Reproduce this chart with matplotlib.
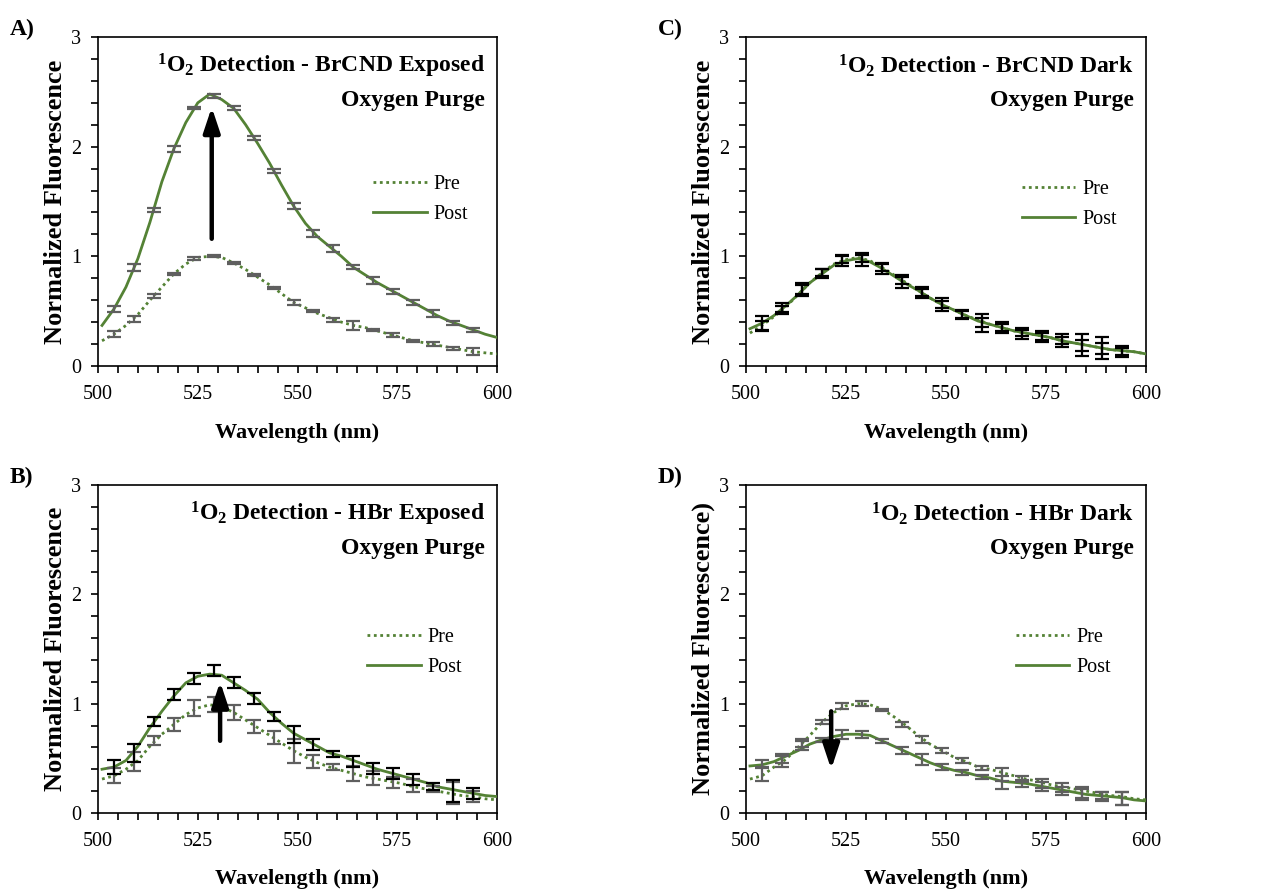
import matplotlib
matplotlib.use("Agg")
import matplotlib.pyplot as plt
from matplotlib.ticker import MultipleLocator

plt.rcParams['font.family'] = ['Liberation Serif', 'DejaVu Serif']
plt.rcParams['mathtext.fontset'] = 'custom'
plt.rcParams['mathtext.bf'] = 'Liberation Serif:bold'
plt.rcParams['mathtext.rm'] = 'Liberation Serif:bold'
plt.rcParams['mathtext.default'] = 'bf'

# continuous spectra (nm)
wl_line = [501, 504, 507, 510, 513, 516, 519, 522, 525, 528, 531, 534, 537, 540, 543, 546, 549,
           552, 555, 558, 561, 564, 567, 570, 573, 576, 579, 582, 585, 588, 591, 594, 597, 600]

a_pre = [0.23, 0.29, 0.37, 0.47, 0.60, 0.72, 0.84, 0.93, 0.99, 1.00, 0.99, 0.94, 0.88, 0.81, 0.74, 0.66, 0.58,
         0.53, 0.48, 0.44, 0.40, 0.37, 0.35, 0.32, 0.29, 0.26, 0.23, 0.21, 0.19, 0.17, 0.15, 0.13, 0.12, 0.11]
a_post = [0.37, 0.52, 0.72, 0.98, 1.31, 1.68, 1.98, 2.22, 2.40, 2.48, 2.43, 2.35, 2.20, 2.03, 1.85, 1.65, 1.46,
          1.30, 1.18, 1.09, 1.00, 0.90, 0.83, 0.76, 0.70, 0.64, 0.58, 0.52, 0.46, 0.41, 0.37, 0.33, 0.29, 0.26]

b_pre = [0.31, 0.34, 0.40, 0.48, 0.61, 0.72, 0.81, 0.90, 0.96, 0.99, 0.97, 0.92, 0.85, 0.78, 0.71, 0.64, 0.57,
         0.51, 0.46, 0.42, 0.39, 0.36, 0.33, 0.31, 0.29, 0.27, 0.24, 0.22, 0.20, 0.18, 0.16, 0.15, 0.13, 0.12]
b_post = [0.40, 0.42, 0.48, 0.61, 0.78, 0.93, 1.07, 1.19, 1.25, 1.27, 1.26, 1.19, 1.12, 1.04, 0.92, 0.82, 0.73,
          0.67, 0.61, 0.55, 0.52, 0.48, 0.44, 0.40, 0.37, 0.34, 0.31, 0.28, 0.24, 0.22, 0.20, 0.18, 0.16, 0.15]

c_pre = [0.30, 0.37, 0.45, 0.54, 0.65, 0.76, 0.85, 0.93, 0.97, 0.99, 0.96, 0.90, 0.83, 0.76, 0.69, 0.62, 0.56,
         0.51, 0.46, 0.42, 0.38, 0.35, 0.32, 0.30, 0.28, 0.26, 0.23, 0.21, 0.19, 0.17, 0.15, 0.14, 0.13, 0.11]
c_post = [0.34, 0.39, 0.46, 0.55, 0.65, 0.76, 0.84, 0.92, 0.96, 0.98, 0.95, 0.89, 0.82, 0.75, 0.69, 0.62, 0.56,
          0.51, 0.46, 0.41, 0.38, 0.35, 0.32, 0.30, 0.28, 0.26, 0.23, 0.21, 0.19, 0.17, 0.15, 0.14, 0.13, 0.11]

d_pre = [0.31, 0.34, 0.42, 0.49, 0.60, 0.71, 0.83, 0.92, 0.98, 1.00, 0.99, 0.95, 0.88, 0.80, 0.71, 0.63, 0.57,
         0.51, 0.47, 0.42, 0.40, 0.37, 0.34, 0.31, 0.29, 0.26, 0.24, 0.22, 0.20, 0.18, 0.16, 0.15, 0.13, 0.12]
d_post = [0.43, 0.44, 0.47, 0.52, 0.57, 0.63, 0.67, 0.70, 0.72, 0.72, 0.71, 0.66, 0.61, 0.56, 0.51, 0.46, 0.42,
          0.39, 0.37, 0.34, 0.32, 0.29, 0.28, 0.27, 0.25, 0.23, 0.21, 0.19, 0.17, 0.16, 0.15, 0.14, 0.12, 0.11]

# error bar points
wl_err = [504, 509, 514, 519, 524, 529, 534, 539, 544, 549, 554, 559, 564, 569, 574, 579, 584, 589, 594]

a_pre_m = [0.29, 0.43, 0.64, 0.84, 0.98, 1.00, 0.94, 0.83, 0.71, 0.58, 0.50, 0.42, 0.37, 0.33, 0.28, 0.23, 0.20, 0.16, 0.13]
a_pre_e = [0.03, 0.03, 0.02, 0.01, 0.01, 0.01, 0.01, 0.01, 0.01, 0.02, 0.01, 0.02, 0.04, 0.01, 0.02, 0.01, 0.02, 0.01, 0.03]
a_post_m = [0.52, 0.90, 1.42, 1.98, 2.35, 2.46, 2.35, 2.08, 1.78, 1.46, 1.21, 1.07, 0.90, 0.78, 0.68, 0.58, 0.48, 0.39, 0.33]
a_post_e = [0.03, 0.03, 0.02, 0.03, 0.01, 0.02, 0.02, 0.02, 0.02, 0.03, 0.03, 0.03, 0.02, 0.03, 0.02, 0.02, 0.03, 0.02, 0.02]

b_pre_m = [0.34, 0.47, 0.66, 0.81, 0.96, 0.99, 0.92, 0.79, 0.69, 0.57, 0.47, 0.42, 0.36, 0.32, 0.28, 0.25, 0.22, 0.18, 0.15]
b_pre_e = [0.07, 0.09, 0.04, 0.06, 0.07, 0.07, 0.07, 0.06, 0.06, 0.11, 0.06, 0.03, 0.07, 0.06, 0.05, 0.06, 0.03, 0.10, 0.05]
b_post_m = [0.42, 0.55, 0.84, 1.08, 1.23, 1.30, 1.19, 1.05, 0.88, 0.72, 0.63, 0.54, 0.47, 0.41, 0.36, 0.31, 0.24, 0.20, 0.18]
b_post_e = [0.06, 0.08, 0.04, 0.05, 0.05, 0.05, 0.05, 0.05, 0.04, 0.08, 0.05, 0.03, 0.05, 0.05, 0.05, 0.05, 0.03, 0.10, 0.05]

c_pre_m = [0.37, 0.52, 0.70, 0.85, 0.97, 0.98, 0.90, 0.78, 0.67, 0.56, 0.47, 0.40, 0.35, 0.30, 0.27, 0.23, 0.19, 0.16, 0.13]
c_pre_e = [0.04, 0.03, 0.04, 0.03, 0.03, 0.03, 0.03, 0.03, 0.03, 0.03, 0.03, 0.04, 0.03, 0.03, 0.03, 0.03, 0.05, 0.05, 0.03]
c_post_m = [0.39, 0.52, 0.70, 0.84, 0.96, 0.97, 0.89, 0.77, 0.67, 0.56, 0.47, 0.39, 0.35, 0.30, 0.27, 0.23, 0.19, 0.16, 0.13]
c_post_e = [0.07, 0.05, 0.06, 0.04, 0.05, 0.06, 0.05, 0.06, 0.05, 0.06, 0.04, 0.08, 0.05, 0.05, 0.05, 0.06, 0.10, 0.10, 0.05]

d_pre_m = [0.35, 0.47, 0.64, 0.83, 0.98, 1.00, 0.94, 0.81, 0.67, 0.57, 0.48, 0.41, 0.35, 0.31, 0.27, 0.23, 0.19, 0.16, 0.13]
d_pre_e = [0.06, 0.05, 0.04, 0.02, 0.03, 0.02, 0.01, 0.02, 0.03, 0.02, 0.02, 0.02, 0.06, 0.03, 0.04, 0.04, 0.05, 0.03, 0.06]
d_post_m = [0.45, 0.50, 0.62, 0.67, 0.72, 0.72, 0.66, 0.57, 0.49, 0.42, 0.37, 0.33, 0.28, 0.27, 0.24, 0.20, 0.17, 0.15, 0.13]
d_post_e = [0.03, 0.04, 0.04, 0.02, 0.04, 0.03, 0.02, 0.03, 0.05, 0.03, 0.02, 0.02, 0.06, 0.03, 0.04, 0.04, 0.05, 0.04, 0.06]

GREEN = '#548235'
GRAY = '#5f5f5f'

fig = plt.figure(figsize=(12.78, 8.92), dpi=100)

# (letter, axes rect, title, pre, post, pre_m, pre_e, post_m, post_e, pre err colour, post err colour, arrow, ylabel)
panels = [
    ('A)', [0.0767, 0.5897, 0.3122, 0.3688], 'BrCND Exposed', a_pre, a_post,
     a_pre_m, a_pre_e, a_post_m, a_post_e, GRAY, GRAY, (528.5, 1.16, 2.36), 'Normalized Fluorescence'),
    ('B)', [0.0767, 0.0886, 0.3122, 0.3677], 'HBr Exposed', b_pre, b_post,
     b_pre_m, b_pre_e, b_post_m, b_post_e, GRAY, 'black', (530.6, 0.66, 1.20), 'Normalized Fluorescence'),
    ('C)', [0.5837, 0.5897, 0.3130, 0.3688], 'BrCND Dark', c_pre, c_post,
     c_pre_m, c_pre_e, c_post_m, c_post_e, 'black', 'black', None, 'Normalized Fluorescence'),
    ('D)', [0.5837, 0.0886, 0.3130, 0.3677], 'HBr Dark', d_pre, d_post,
     d_pre_m, d_pre_e, d_post_m, d_post_e, GRAY, GRAY, (521.3, 0.93, 0.40), 'Normalized Fluorescence)'),
]

for (letter, rect, name, pre, post, pre_m, pre_e, post_m, post_e,
     col_pre, col_post, arrow, ylab) in panels:
    ax = fig.add_axes(rect)
    ax.plot(wl_line, pre, color=GREEN, lw=2.0, linestyle=(0, (1, 1.3)), label='Pre', zorder=3)
    ax.plot(wl_line, post, color=GREEN, lw=2.0, label='Post', zorder=3)
    ax.errorbar(wl_err, pre_m, yerr=pre_e, fmt='none', ecolor=col_pre, elinewidth=1.6,
                capsize=5, capthick=1.6, zorder=4)
    ax.errorbar(wl_err, post_m, yerr=post_e, fmt='none', ecolor=col_post, elinewidth=1.6,
                capsize=5, capthick=1.6, zorder=4)

    if arrow is not None:
        x, y0, y1 = arrow
        ax.annotate('', xy=(x, y1), xytext=(x, y0),
                    arrowprops=dict(arrowstyle='-|>,head_width=0.25,head_length=0.75',
                                    color='black', lw=3.2, mutation_scale=20,
                                    shrinkA=0, shrinkB=0), zorder=6)

    ax.set_xlim(500, 600)
    ax.set_ylim(0, 3)
    ax.xaxis.set_major_locator(MultipleLocator(25))
    ax.xaxis.set_minor_locator(MultipleLocator(5))
    ax.yaxis.set_major_locator(MultipleLocator(1))
    ax.yaxis.set_minor_locator(MultipleLocator(0.2))
    ax.tick_params(which='both', direction='out', length=5, width=1.2,
                   top=False, right=False, labelsize=14.5)
    ax.tick_params(axis='x', pad=9)
    ax.tick_params(axis='y', pad=7)
    for s in ax.spines.values():
        s.set_linewidth(1.2)

    ax.set_xlabel('Wavelength (nm)', fontsize=16, fontweight='bold')
    ax.set_ylabel(ylab, fontsize=19, fontweight='bold')
    ax.xaxis.set_label_coords(0.5, -0.172)
    ax.yaxis.set_label_coords(-0.077, 0.5)

    ax.text(0.97, 0.912, r'$^{1}$O$_{2}$ Detection - ' + name, transform=ax.transAxes,
            ha='right', va='center', fontsize=17, fontweight='bold')
    ax.text(0.97, 0.806, 'Oxygen Purge', transform=ax.transAxes,
            ha='right', va='center', fontsize=17, fontweight='bold')

    lx = 0.69 if letter in ('A)', 'C)') else 0.675
    ly = 0.506 if letter == 'A)' else 0.49
    ax.legend(loc='center left', bbox_to_anchor=(lx, ly), frameon=False, fontsize=14.5,
              handlelength=2.65, handletextpad=0.35, labelspacing=0.55,
              borderpad=0, borderaxespad=0)

    fig.text(rect[0] - 0.069, rect[1] + rect[3] + 0.008, letter, fontsize=17,
             fontweight='bold', ha='left', va='center')

fig.savefig('out.png', dpi=100)
